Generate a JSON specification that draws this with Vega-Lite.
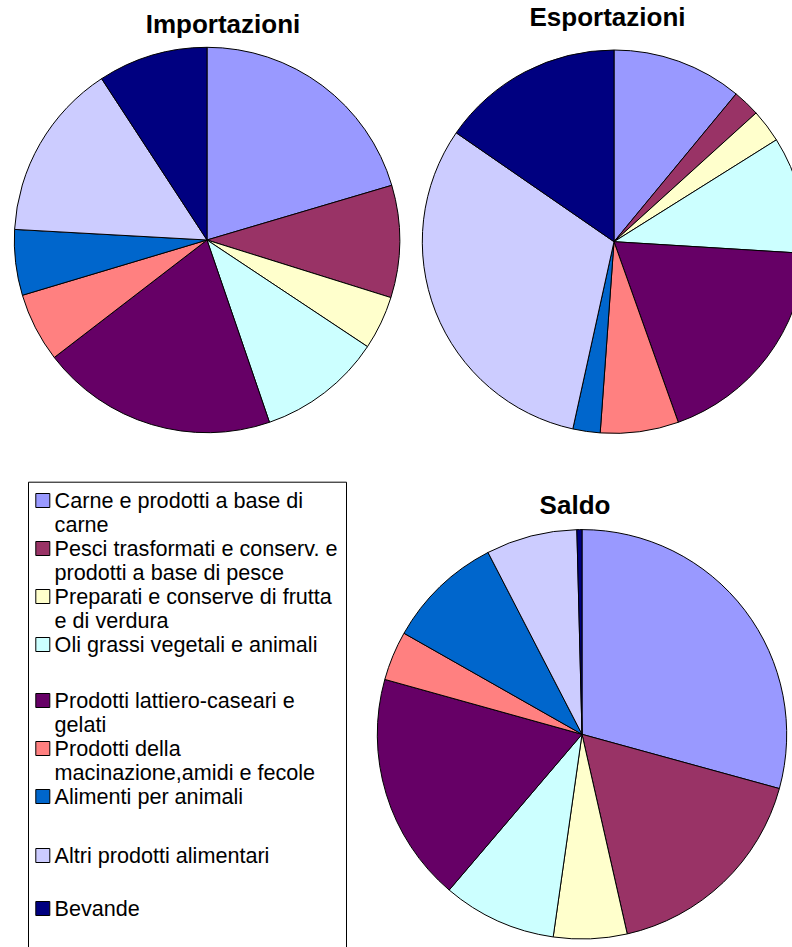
{
  "$schema": "https://vega.github.io/schema/vega-lite/v6.json",
  "padding": {"top": 5, "left": 0, "right": 0, "bottom": 0},
  "background": "white",
  "bounds": "flush",
  "spacing": 0,
  "datasets": {
    "importazioni": [
      {"n": 1, "categoria": "Carne e prodotti a base di carne", "quota": 20.4},
      {"n": 2, "categoria": "Pesci trasformati e conserv. e prodotti a base di pesce", "quota": 9.4},
      {"n": 3, "categoria": "Preparati e conserve di frutta e di verdura", "quota": 4.5},
      {"n": 4, "categoria": "Oli grassi vegetali e animali", "quota": 10.4},
      {"n": 5, "categoria": "Prodotti lattiero-caseari e gelati", "quota": 19.8},
      {"n": 6, "categoria": "Prodotti della macinazione,amidi e fecole", "quota": 5.8},
      {"n": 7, "categoria": "Alimenti per animali", "quota": 5.5},
      {"n": 8, "categoria": "Altri prodotti alimentari", "quota": 14.9},
      {"n": 9, "categoria": "Bevande", "quota": 9.2}
    ],
    "esportazioni": [
      {"n": 1, "categoria": "Carne e prodotti a base di carne", "quota": 11.0},
      {"n": 2, "categoria": "Pesci trasformati e conserv. e prodotti a base di pesce", "quota": 2.3},
      {"n": 3, "categoria": "Preparati e conserve di frutta e di verdura", "quota": 2.8},
      {"n": 4, "categoria": "Oli grassi vegetali e animali", "quota": 9.9},
      {"n": 5, "categoria": "Prodotti lattiero-caseari e gelati", "quota": 18.6},
      {"n": 6, "categoria": "Prodotti della macinazione,amidi e fecole", "quota": 6.6},
      {"n": 7, "categoria": "Alimenti per animali", "quota": 2.3},
      {"n": 8, "categoria": "Altri prodotti alimentari", "quota": 31.2},
      {"n": 9, "categoria": "Bevande", "quota": 15.4}
    ],
    "saldo": [
      {"n": 1, "categoria": "Carne e prodotti a base di carne", "quota": 29.3},
      {"n": 2, "categoria": "Pesci trasformati e conserv. e prodotti a base di pesce", "quota": 17.2},
      {"n": 3, "categoria": "Preparati e conserve di frutta e di verdura", "quota": 5.8},
      {"n": 4, "categoria": "Oli grassi vegetali e animali", "quota": 9.0},
      {"n": 5, "categoria": "Prodotti lattiero-caseari e gelati", "quota": 18.1},
      {"n": 6, "categoria": "Prodotti della macinazione,amidi e fecole", "quota": 3.9},
      {"n": 7, "categoria": "Alimenti per animali", "quota": 9.2},
      {"n": 8, "categoria": "Altri prodotti alimentari", "quota": 7.2},
      {"n": 9, "categoria": "Bevande", "quota": 0.4}
    ]
  },
  "hconcat": [
    {
      "data": {"name": "importazioni"},
      "width": 414,
      "height": 400,
      "title": {"text": "Importazioni", "offset": 1.7, "dx": 16},
      "mark": {"type": "arc", "radius": 192.7, "stroke": "black", "strokeWidth": 1, "strokeJoin": "round"},
      "encoding": {
        "theta": {"field": "quota", "type": "quantitative", "stack": "normalize"},
        "order": {"field": "n", "type": "quantitative"},
        "color": {
          "field": "categoria", "type": "nominal",
          "scale": {
            "domain": ["Carne e prodotti a base di carne", "Pesci trasformati e conserv. e prodotti a base di pesce", "Preparati e conserve di frutta e di verdura", "Oli grassi vegetali e animali", "Prodotti lattiero-caseari e gelati", "Prodotti della macinazione,amidi e fecole", "Alimenti per animali", "Altri prodotti alimentari", "Bevande"],
            "range": ["#9999FF", "#993366", "#FFFFCC", "#CCFFFF", "#660066", "#FF8080", "#0066CC", "#CCCCFF", "#000080"]
          },
          "legend": {
            "title": null, "orient": "none", "legendX": 28, "legendY": 441.7, "direction": "vertical",
            "symbolType": "square", "symbolSize": 196, "symbolStrokeColor": "black", "symbolStrokeWidth": 1, "symbolOffset": -4,
            "labelFont": "Liberation Sans", "labelFontSize": 21.6, "labelColor": "black", "labelLimit": 500,
            "labelOffset": 1, "labelBaseline": "top", "padding": 8, "rowPadding": 1, "strokeColor": "black",
            "labelExpr": "datum.value == 'Carne e prodotti a base di carne' ? ['Carne e prodotti a base di', 'carne'] : datum.value == 'Pesci trasformati e conserv. e prodotti a base di pesce' ? ['Pesci trasformati e conserv. e', 'prodotti a base di pesce'] : datum.value == 'Preparati e conserve di frutta e di verdura' ? ['Preparati e conserve di frutta', 'e di verdura'] : datum.value == 'Prodotti lattiero-caseari e gelati' ? ['Prodotti lattiero-caseari e', 'gelati'] : datum.value == 'Prodotti della macinazione,amidi e fecole' ? ['Prodotti della', 'macinazione,amidi e fecole'] : [datum.label, '']",
            "encode": {"labels": {"update": {"dy": {"value": -10}, "lineHeight": {"signal": "datum.value == 'Oli grassi vegetali e animali' ? 32.5 : datum.value == 'Alimenti per animali' ? 35.5 : datum.value == 'Altri prodotti alimentari' ? 29.5 : 24.5"}}}}
          }
        }
      }
    },
    {
      "vconcat": [
        {
          "data": {"name": "esportazioni"},
          "width": 400,
          "height": 403.4,
          "title": {"text": "Esportazioni", "offset": 9, "dx": -6.5},
          "mark": {"type": "arc", "radius": 191.7, "stroke": "black", "strokeWidth": 1, "strokeJoin": "round"},
          "encoding": {
            "theta": {"field": "quota", "type": "quantitative", "stack": "normalize"},
            "order": {"field": "n", "type": "quantitative"},
            "color": {
              "field": "categoria", "type": "nominal",
              "scale": {
                "domain": ["Carne e prodotti a base di carne", "Pesci trasformati e conserv. e prodotti a base di pesce", "Preparati e conserve di frutta e di verdura", "Oli grassi vegetali e animali", "Prodotti lattiero-caseari e gelati", "Prodotti della macinazione,amidi e fecole", "Alimenti per animali", "Altri prodotti alimentari", "Bevande"],
                "range": ["#9999FF", "#993366", "#FFFFCC", "#CCFFFF", "#660066", "#FF8080", "#0066CC", "#CCCCFF", "#000080"]
              },
              "legend": {
                "title": null, "orient": "none", "legendX": 28, "legendY": 441.7, "direction": "vertical",
                "symbolType": "square", "symbolSize": 196, "symbolStrokeColor": "black", "symbolStrokeWidth": 1, "symbolOffset": -4,
                "labelFont": "Liberation Sans", "labelFontSize": 21.6, "labelColor": "black", "labelLimit": 500,
                "labelOffset": 1, "labelBaseline": "top", "padding": 8, "rowPadding": 1, "strokeColor": "black",
                "labelExpr": "datum.value == 'Carne e prodotti a base di carne' ? ['Carne e prodotti a base di', 'carne'] : datum.value == 'Pesci trasformati e conserv. e prodotti a base di pesce' ? ['Pesci trasformati e conserv. e', 'prodotti a base di pesce'] : datum.value == 'Preparati e conserve di frutta e di verdura' ? ['Preparati e conserve di frutta', 'e di verdura'] : datum.value == 'Prodotti lattiero-caseari e gelati' ? ['Prodotti lattiero-caseari e', 'gelati'] : datum.value == 'Prodotti della macinazione,amidi e fecole' ? ['Prodotti della', 'macinazione,amidi e fecole'] : [datum.label, '']",
                "encode": {"labels": {"update": {"dy": {"value": -10}, "lineHeight": {"signal": "datum.value == 'Oli grassi vegetali e animali' ? 32.5 : datum.value == 'Alimenti per animali' ? 35.5 : datum.value == 'Altri prodotti alimentari' ? 29.5 : 24.5"}}}}
              }
            }
          }
        },
        {
          "data": {"name": "saldo"},
          "width": 336,
          "height": 410,
          "title": {"text": "Saldo", "offset": 9.7, "dx": -7},
          "mark": {"type": "arc", "radius": 204.7, "stroke": "black", "strokeWidth": 1, "strokeJoin": "round"},
          "encoding": {
            "theta": {"field": "quota", "type": "quantitative", "stack": "normalize"},
            "order": {"field": "n", "type": "quantitative"},
            "color": {
              "field": "categoria", "type": "nominal",
              "scale": {
                "domain": ["Carne e prodotti a base di carne", "Pesci trasformati e conserv. e prodotti a base di pesce", "Preparati e conserve di frutta e di verdura", "Oli grassi vegetali e animali", "Prodotti lattiero-caseari e gelati", "Prodotti della macinazione,amidi e fecole", "Alimenti per animali", "Altri prodotti alimentari", "Bevande"],
                "range": ["#9999FF", "#993366", "#FFFFCC", "#CCFFFF", "#660066", "#FF8080", "#0066CC", "#CCCCFF", "#000080"]
              },
              "legend": {
                "title": null, "orient": "none", "legendX": 28, "legendY": 441.7, "direction": "vertical",
                "symbolType": "square", "symbolSize": 196, "symbolStrokeColor": "black", "symbolStrokeWidth": 1, "symbolOffset": -4,
                "labelFont": "Liberation Sans", "labelFontSize": 21.6, "labelColor": "black", "labelLimit": 500,
                "labelOffset": 1, "labelBaseline": "top", "padding": 8, "rowPadding": 1, "strokeColor": "black",
                "labelExpr": "datum.value == 'Carne e prodotti a base di carne' ? ['Carne e prodotti a base di', 'carne'] : datum.value == 'Pesci trasformati e conserv. e prodotti a base di pesce' ? ['Pesci trasformati e conserv. e', 'prodotti a base di pesce'] : datum.value == 'Preparati e conserve di frutta e di verdura' ? ['Preparati e conserve di frutta', 'e di verdura'] : datum.value == 'Prodotti lattiero-caseari e gelati' ? ['Prodotti lattiero-caseari e', 'gelati'] : datum.value == 'Prodotti della macinazione,amidi e fecole' ? ['Prodotti della', 'macinazione,amidi e fecole'] : [datum.label, '']",
                "encode": {"labels": {"update": {"dy": {"value": -10}, "lineHeight": {"signal": "datum.value == 'Oli grassi vegetali e animali' ? 32.5 : datum.value == 'Alimenti per animali' ? 35.5 : datum.value == 'Altri prodotti alimentari' ? 29.5 : 24.5"}}}}
              }
            }
          }
        }
      ],
      "spacing": 85.3,
      "bounds": "flush"
    }
  ],
  "config": {
    "view": {"stroke": null},
    "title": {"font": "Liberation Sans", "fontSize": 26, "fontWeight": "bold", "color": "black", "baseline": "alphabetic", "frame": "group", "anchor": "middle"}
  }
}
